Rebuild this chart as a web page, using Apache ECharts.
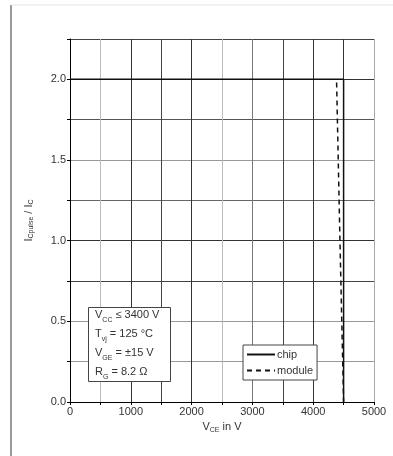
<!DOCTYPE html>
<html><head><meta charset="utf-8">
<script src="https://cdn.jsdelivr.net/npm/echarts@6/dist/echarts.min.js"></script>
<style>html,body{margin:0;padding:0;background:#fff}#c{width:393px;height:456px}</style>
</head><body><div id="c"></div>
<script>
// Data
const chipV = [0, 4500, 4500];
const chipI = [2.0, 2.0, 0.0];
const moduleV = [4385, 4440, 4500];
const moduleI = [1.98, 1.0, 0.0];
const xTickLabels = ['0', '1000', '2000', '3000', '4000', '5000'];
const yTickLabels = ['0.0', '0.5', '1.0', '1.5', '2.0'];
const seriesNames = ['chip', 'module'];

const chart = echarts.init(document.getElementById('c'), null, {renderer: 'canvas'});
const font = 'Liberation Sans, Arial, sans-serif';
const xGridColors = ['#000', '#bbb', '#333', '#444', '#333', '#bbb', '#777', '#444', '#333', '#333', '#aaa'];
const yGridColors = ['#000', '#999', '#999', '#444', '#333', '#666', '#999', '#555', '#333', '#444'];
const sub = {fontSize: 7, fontWeight: 'normal', verticalAlign: 'bottom', padding: [6, 0, 0, 0], fontFamily: font, color: '#333'};
const normal = {fontSize: 11, fontWeight: 'normal', fontFamily: font, color: '#333'};

chart.setOption({
  animation: false,
  color: ['#111', '#111'],
  grid: {left: 70, right: 19, top: 39, bottom: 54, containLabel: false},
  xAxis: {
    type: 'value', min: 0, max: 5000, interval: 500,
    name: '{n|V}{s|CE}{n| in V}', nameLocation: 'middle', nameGap: 17,
    nameTextStyle: {rich: {n: normal, s: sub}},
    axisLine: {show: true, lineStyle: {color: '#000', width: 1}},
    axisTick: {show: true, length: 3, lineStyle: {color: '#000'}},
    axisLabel: {
      fontSize: 11, fontFamily: font, color: '#333', margin: 4,
      formatter: v => (v % 1000 === 0 ? xTickLabels[v / 1000] : '')
    },
    splitLine: {show: true, lineStyle: {color: xGridColors, width: 1}}
  },
  yAxis: {
    type: 'value', min: 0, max: 2.25, interval: 0.25,
    name: '{n|I}{s|Cpulse}{n| / I}{s|C}', nameLocation: 'middle', nameGap: 35, nameRotate: 90,
    nameTextStyle: {rich: {n: normal, s: sub}},
    axisLine: {show: true, lineStyle: {color: '#000', width: 1}},
    axisTick: {show: true, length: 3, lineStyle: {color: '#000'}},
    axisLabel: {
      fontSize: 11, fontFamily: font, color: '#333', margin: 4,
      formatter: v => {
        const k = Math.round(v * 100);
        return k % 50 === 0 ? yTickLabels[k / 50] : '';
      }
    },
    splitLine: {show: true, lineStyle: {color: yGridColors, width: 1}}
  },
  title: {
    left: 88, top: 303,
    text: '{n|V}{s|CC}{n| ≤ 3400 V}\n{n|T}{s|vj}{n| = 125 °C}\n{n|V}{s|GE}{n| = ±15 V}\n{n|R}{s|G}{n| = 8.2 Ω}',
    textStyle: {fontWeight: 'normal', rich: {n: Object.assign({}, normal, {lineHeight: 19}), s: Object.assign({}, sub, {lineHeight: 19})}},
    borderColor: '#444', borderWidth: 1, backgroundColor: '#fff',
    padding: [2, 11, 1, 7]
  },
  legend: {
    show: true,
    left: 243, top: 345, orient: 'vertical',
    itemWidth: 28, itemHeight: 10, itemGap: 5,
    borderColor: '#444', borderWidth: 1, backgroundColor: '#fff',
    padding: [4, 4, 4, 3],
    itemStyle: {opacity: 0},
    textStyle: {fontSize: 11, fontFamily: font, color: '#333', padding: [0, 0, 0, -3]},
    data: seriesNames
  },
  series: [
    {
      name: seriesNames[0], type: 'line', symbol: 'none',
      data: chipV.map((v, i) => [v, chipI[i]]),
      itemStyle: {color: '#111'},
      lineStyle: {color: '#111', width: 1.5, type: 'solid'}, z: 5
    },
    {
      name: seriesNames[1], type: 'line', symbol: 'none',
      data: moduleV.map((v, i) => [v, moduleI[i]]),
      itemStyle: {color: '#111'},
      lineStyle: {color: '#111', width: 1.5, type: [5, 4]}, z: 6
    }
  ],
  graphic: [
    {type: 'line', shape: {x1: 11, y1: 5, x2: 11, y2: 456}, style: {stroke: '#999', lineWidth: 2}},
    {type: 'line', shape: {x1: 11, y1: 5, x2: 393, y2: 5}, style: {stroke: '#e4e4e4', lineWidth: 1}}
  ]
});
</script></body></html>
